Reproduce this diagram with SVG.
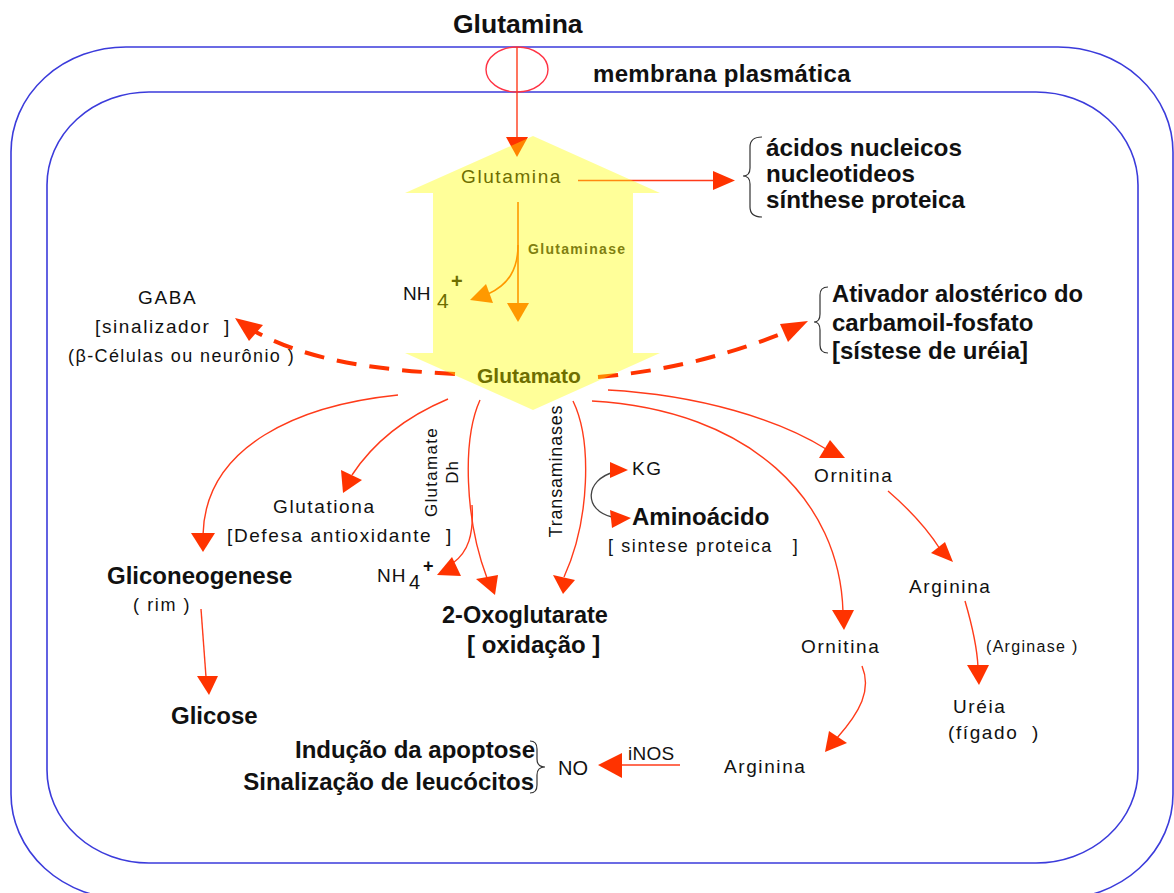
<svg xmlns="http://www.w3.org/2000/svg" width="1174" height="893" viewBox="0 0 1174 893">
<style>
text{font-family:"Liberation Sans",Arial,sans-serif;fill:#111}
.lb{font-size:19px;letter-spacing:1.6px}
.bd{font-weight:bold;font-size:24px}
.ol{fill:#6E6E00}
.mem{fill:none;stroke:#3B3BDB;stroke-width:1.6}
.ln{fill:none;stroke:#FF3B1A;stroke-width:1.4}
.hd{fill:#FF3300}
.dash{fill:none;stroke:#FF3300;stroke-width:4;stroke-dasharray:20 13}
.or{fill:none;stroke:#FF5500;stroke-width:1.6}
.orh{fill:#FF5500}
.gr{fill:none;stroke:#444;stroke-width:1.3}
.br{fill:none;stroke:#333;stroke-width:1.2}
</style>
<rect width="1174" height="893" fill="#fff"/>
<g id="membrane">
<rect class="mem" x="11" y="47" width="1162" height="852" rx="115" ry="105"/>
<rect class="mem" x="47" y="92" width="1091" height="771" rx="102" ry="93"/>
<ellipse cx="517" cy="69.5" rx="31" ry="22.5" fill="none" stroke="#FF3344" stroke-width="1.4"/>
<text x="593" y="82" class="bd" style="letter-spacing:0.3px">membrana plasmática</text>
</g>
<g id="glutamina-ext"><text x="453" y="33" style="font-weight:bold;font-size:26.5px">Glutamina</text></g>
<g id="connectors">
<path class="ln" d="M517,47 L517,140"/><polygon class="hd" points="506,137 528,137 517,157"/>
<path class="ln" d="M578,180.5 L715,180.5"/><polygon class="hd" points="713,171 713,190 735,180.5"/>
<path class="dash" d="M455,374 C380,370 310,362 254,331"/><polygon class="hd" points="235,318 263,325 249,341"/>
<path class="dash" d="M598,377 C680,370 740,350 786,332"/><polygon class="hd" points="808,321 780,324 788,342"/>
<path class="or" d="M518,202 L518,305"/><polygon class="orh" points="507,303 529,303 518,322"/>
<path class="or" d="M518,245 C518,270 508,285 488,294"/><polygon class="orh" points="470,300 486,284 493,303"/>
<path class="ln" d="M398,395 C300,405 205,445 203,535"/><polygon class="hd" points="191,533 215,533 203,552"/>
<path class="ln" d="M448,399 C410,415 375,440 352,475"/><polygon class="hd" points="341,470 362,480 343,493"/>
<path class="ln" d="M480,400 C462,440 465,520 487,578"/><polygon class="hd" points="476,579 498,575 495,595"/>
<path class="ln" d="M472,505 C474,535 468,552 453,563"/><polygon class="hd" points="437,575 452,557 461,576"/>
<path class="ln" d="M573,401 C592,440 590,520 564,577"/><polygon class="hd" points="553,575 575,580 563,594"/>
<path class="gr" d="M614,472 C585,480 583,510 612,517"/>
<polygon fill="#FF3300" points="610,462 628,470 610,478"/>
<polygon fill="#FF3300" points="610,510 631,518 612,528"/>
<path class="ln" d="M608,390 C700,395 780,420 826,449"/><polygon class="hd" points="819,458 830,440 845,458"/>
<path class="ln" d="M592,401 C750,410 840,500 843,612"/><polygon class="hd" points="832,610 854,610 844,630"/>
<path class="ln" d="M201,609 L206,677"/><polygon class="hd" points="197,676 218,676 209,695"/>
<path class="ln" d="M888,491 C910,510 928,530 940,549"/><polygon class="hd" points="931,553 945,542 953,562"/>
<path class="ln" d="M965,601 C972,625 977,645 978,667"/><polygon class="hd" points="967,665 989,665 979,685"/>
<path class="ln" d="M862,666 C872,690 860,712 837,738"/><polygon class="hd" points="825,752 829,731 847,743"/>
<path class="ln" d="M680,765 L620,765"/><polygon class="hd" points="622,753 622,778 598,765"/>
</g>
<g id="glutamina-glutamato">
<polygon points="533,136 660,193 633,193 633,353 660,353 533,410 405,353 433,353 433,193 405,193" fill="#FFFF00" fill-opacity="0.4"/>
<text x="461" y="183" class="lb ol">Glutamina</text>
<text x="528" y="254" class="ol" style="font-weight:bold;font-size:14px;letter-spacing:1.3px;fill:#7F7F10">Glutaminase</text>
<text x="477" y="383" class="ol" style="font-weight:bold;font-size:21px">Glutamato</text>
</g>
<g id="nh4-top">
<text x="403" y="300" style="font-size:19px">NH</text>
<text x="437" y="308" class="ol" style="font-size:21px">4</text>
<text x="451" y="288" class="ol" style="font-size:20px;font-weight:bold">+</text>
</g>
<g id="produtos">
<path class="br" d="M762,137 Q750,137 750,147 V168 Q750,176 743,176 Q750,176 750,184 V207 Q750,217 762,217"/>
<text x="766" y="156" class="bd" textLength="196" lengthAdjust="spacingAndGlyphs">ácidos nucleicos</text>
<text x="766" y="182" class="bd" textLength="149" lengthAdjust="spacingAndGlyphs">nucleotideos</text>
<text x="766" y="208" class="bd" textLength="199" lengthAdjust="spacingAndGlyphs">sínthese proteica</text>
</g>
<g id="ativador">
<path class="br" d="M828,287 Q820,287 820,295 V314 Q820,322 814,322 Q820,322 820,330 V345 Q820,353 828,353"/>
<text x="832" y="302" class="bd" textLength="251" lengthAdjust="spacingAndGlyphs">Ativador alostérico do</text>
<text x="832" y="331" class="bd">carbamoil-fosfato</text>
<text x="832" y="359" class="bd">[sístese de uréia]</text>
</g>
<g id="gaba">
<text x="138" y="304" class="lb">GABA</text>
<text x="95" y="333" class="lb" xml:space="preserve">[sinalizador  ]</text>
<text x="68" y="362" class="lb" style="font-size:18px;letter-spacing:1.4px">(β-Células ou neurônio )</text>
</g>
<g id="glutationa">
<text x="273" y="513" class="lb">Glutationa</text>
<text x="227" y="542" class="lb" xml:space="preserve">[Defesa antioxidante  ]</text>
</g>
<g id="glutamate-dh">
<text transform="translate(437,472) rotate(-90)" text-anchor="middle" style="font-size:17px;letter-spacing:1.3px">Glutamate</text>
<text transform="translate(458,472) rotate(-90)" text-anchor="middle" style="font-size:17px;letter-spacing:1px">Dh</text>
</g>
<g id="transaminases">
<text transform="translate(562,471) rotate(-90)" text-anchor="middle" style="font-size:18px;letter-spacing:0.8px">Transaminases</text>
</g>
<g id="nh4-bottom">
<text x="377" y="582" style="font-size:19px;letter-spacing:1px">NH</text>
<text x="409" y="589" style="font-size:20px">4</text>
<text x="423" y="572" style="font-size:18px;font-weight:bold">+</text>
</g>
<g id="oxoglutarate">
<text x="442" y="623" class="bd" style="font-size:23.5px">2-Oxoglutarate</text>
<text x="467" y="653" class="bd" xml:space="preserve">[ oxidação ]</text>
</g>
<g id="aminoacido">
<text x="632" y="475" class="lb">KG</text>
<text x="632" y="525" class="bd">Aminoácido</text>
<text x="608" y="552" class="lb" xml:space="preserve" style="font-size:18px;letter-spacing:1.6px">[ sintese proteica   ]</text>
</g>
<g id="gliconeogenese">
<text x="107" y="584" class="bd">Gliconeogenese</text>
<text x="133" y="611" class="lb" xml:space="preserve" style="font-size:18px">( rim )</text>
</g>
<g id="glicose"><text x="171" y="724" class="bd">Glicose</text></g>
<g id="ornitina-1"><text x="814" y="482" class="lb">Ornitina</text></g>
<g id="arginina-1"><text x="909" y="593" class="lb">Arginina</text></g>
<g id="arginase"><text x="986" y="652" class="lb" style="font-size:16px;letter-spacing:1.3px">(Arginase )</text></g>
<g id="ureia">
<text x="953" y="713" class="lb">Uréia</text>
<text x="948" y="739" class="lb" xml:space="preserve">(fígado  )</text>
</g>
<g id="ornitina-2"><text x="801" y="653" class="lb">Ornitina</text></g>
<g id="arginina-2"><text x="724" y="773" class="lb">Arginina</text></g>
<g id="inos"><text x="628" y="760" style="font-size:19px;letter-spacing:0.3px">iNOS</text></g>
<g id="no"><text x="558" y="775" style="font-size:20px">NO</text></g>
<g id="apoptose">
<text x="535" y="758" class="bd" text-anchor="end">Indução da apoptose</text>
<text x="534" y="790" class="bd" text-anchor="end">Sinalização de leucócitos</text>
<path class="br" d="M530,741 Q537,741 537,749 V759 Q537,767 545,767 Q537,767 537,775 V785 Q537,793 530,793"/>
</g>
</svg>
